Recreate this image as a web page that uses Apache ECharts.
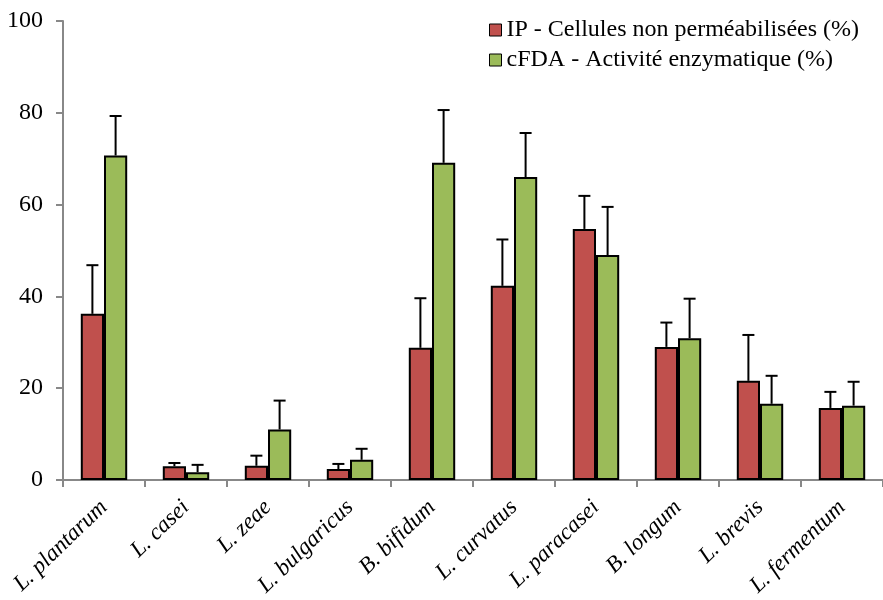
<!DOCTYPE html>
<html><head><meta charset="utf-8">
<script src="https://cdn.jsdelivr.net/npm/echarts@6/dist/echarts.min.js"></script>
<style>html,body{margin:0;padding:0;background:#fff}#c{width:883px;height:600px}</style>
</head><body><div id="c"></div>
<script>
const categories = ['L. plantarum','L. casei','L. zeae','L. bulgaricus','B. bifidum','L. curvatus','L. paracasei','B. longum','L. brevis','L. fermentum'];
const ipValues = [36.2, 3.0, 3.1, 2.4, 28.8, 42.3, 54.7, 29.0, 21.6, 15.7];
const ipErrors = [10.6, 0.7, 2.2, 1.1, 10.8, 10.1, 7.2, 5.3, 10.0, 3.5];
const cfdaValues = [70.7, 1.7, 11.0, 4.4, 69.1, 66.0, 49.0, 30.9, 16.6, 16.2];
const cfdaErrors = [8.6, 1.6, 6.3, 2.4, 11.5, 9.6, 10.5, 8.6, 6.1, 5.2];
const yTicks = {min: 0, max: 100, interval: 20};
const seriesNames = ['IP - Cellules non perméabilisées (%)', 'cFDA - Activité enzymatique (%)'];

const GAP = 0.434;
const font = 'Liberation Serif';

function errSeries(vals, errs, side) {
  return {
    type: 'custom',
    z: 10,
    silent: true,
    data: vals.map((v, i) => [i, v, errs[i]]),
    renderItem: function (params, api) {
      const idx = api.value(0), v = api.value(1), e = api.value(2);
      const base = api.coord([idx, v]);
      const top = api.coord([idx, v + e]);
      const cw = api.size([1, 0])[0];
      const bw = cw * (1 - GAP) / 2;
      const x = base[0] + side * bw / 2;
      const cap = 6;
      return {
        type: 'group',
        children: [
          {type: 'line', shape: {x1: x, y1: base[1], x2: x, y2: top[1]}, style: {stroke: '#000', lineWidth: 2}},
          {type: 'line', shape: {x1: x - cap, y1: top[1], x2: x + cap, y2: top[1]}, style: {stroke: '#000', lineWidth: 2}}
        ]
      };
    }
  };
}

const chart = echarts.init(document.getElementById('c'), null, {renderer: 'canvas'});
chart.setOption({
  animation: false,
  backgroundColor: '#fff',
  textStyle: {fontFamily: font, color: '#000'},
  grid: {left: 63, top: 21, width: 830, height: 459, containLabel: false},
  legend: {
    data: seriesNames,
    orient: 'vertical',
    left: 484, top: 13,
    itemWidth: 12, itemHeight: 12, itemGap: 6,
    icon: 'rect',
    itemStyle: {borderColor: '#000', borderWidth: 1},
    textStyle: {fontFamily: font, fontSize: 24, color: '#000'}
  },
  xAxis: {
    type: 'category',
    data: categories,
    axisLine: {lineStyle: {color: '#888', width: 2}},
    axisTick: {show: true, alignWithLabel: false, length: 7, lineStyle: {color: '#888', width: 2}},
    axisLabel: {
      interval: 0, rotate: 44, margin: 24,
      fontFamily: font, fontSize: 23, fontStyle: 'italic', color: '#000'
    }
  },
  yAxis: {
    type: 'value',
    min: yTicks.min, max: yTicks.max, interval: yTicks.interval,
    splitLine: {show: false},
    axisLine: {show: true, lineStyle: {color: '#888', width: 2}},
    axisTick: {show: true, length: 7, lineStyle: {color: '#888', width: 2}},
    axisLabel: {fontFamily: font, fontSize: 24, color: '#000', margin: 20}
  },
  series: [
    {name: seriesNames[0], type: 'bar', data: ipValues, barGap: '0%', barCategoryGap: (GAP*100)+'%',
     itemStyle: {color: '#C0504D', borderColor: '#000', borderWidth: 2}},
    {name: seriesNames[1], type: 'bar', data: cfdaValues, barGap: '0%', barCategoryGap: (GAP*100)+'%',
     itemStyle: {color: '#9BBB59', borderColor: '#000', borderWidth: 2}},
    errSeries(ipValues, ipErrors, -1),
    errSeries(cfdaValues, cfdaErrors, 1)
  ]
});
</script></body></html>
